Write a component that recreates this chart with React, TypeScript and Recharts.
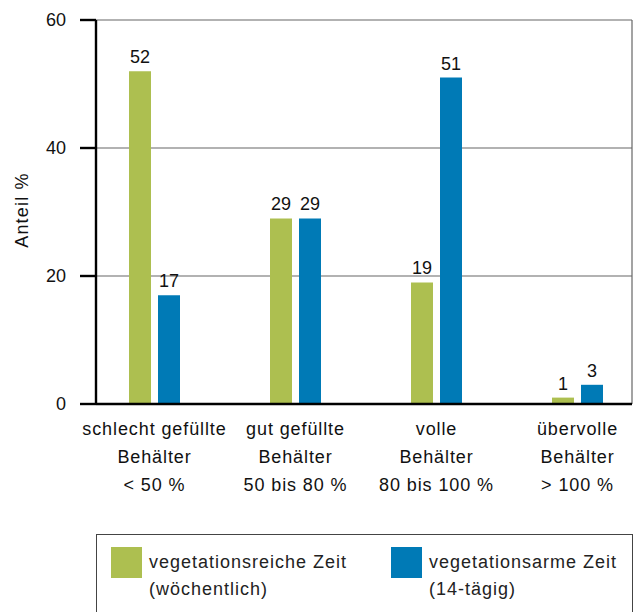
import React from 'react';
import { BarChart, Bar, XAxis, YAxis, CartesianGrid, LabelList } from 'recharts';

const categories = [
  ['schlecht gefüllte', 'Behälter', '< 50 %'],
  ['gut gefüllte', 'Behälter', '50 bis 80 %'],
  ['volle', 'Behälter', '80 bis 100 %'],
  ['übervolle', 'Behälter', '> 100 %'],
];
const reichValues = [52, 29, 19, 1];
const armValues = [17, 29, 51, 3];
const yTicks = [0, 20, 40, 60];
const seriesNames = [
  ['vegetationsreiche Zeit', '(wöchentlich)'],
  ['vegetationsarme Zeit', '(14-tägig)'],
];
const GREEN = '#adbf50';
const BLUE = '#007ab6';
const FONT = '"Liberation Sans", Arial, sans-serif';

const data = categories.map((c, i) => ({
  key: String(i),
  reich: reichValues[i],
  arm: armValues[i],
}));

const CatTick = (props: any) => {
  const { x, payload } = props;
  const lines = categories[Number(payload.value)];
  return (
    <g>
      {lines.map((l, i) => (
        <text key={i} x={x} y={404 + 31 + i * 28} textAnchor="middle" fontSize={18} fill="#111" fontFamily={FONT} letterSpacing={0.9}>
          {l}
        </text>
      ))}
    </g>
  );
};

const YLabel = () => (
  <text x={28} y={210} transform="rotate(-90 28 210)" textAnchor="middle" fontSize={18} fill="#111" fontFamily={FONT} letterSpacing={1.2}>
    Anteil %
  </text>
);

export default function App() {
  return (
    <div style={{ position: 'absolute', left: 0, top: 0, width: 635, height: 612, overflow: 'hidden', background: '#fff', fontFamily: FONT }}>
      <BarChart
        width={635}
        height={612}
        data={data}
        margin={{ top: 20, right: 3, bottom: 0, left: 0 }}
        barSize={22}
        barGap={7}
      >
        <CartesianGrid stroke="#666" strokeWidth={1.2} vertical={true} verticalPoints={[632]} horizontalPoints={[20, 148, 276]} />
        <XAxis
          dataKey="key"
          padding={{ left: -12, right: -16 }}
          axisLine={{ stroke: '#000', strokeWidth: 2.4 }}
          tickLine={false}
          tickSize={0}
          tickMargin={0}
          tick={<CatTick />}
          interval={0}
          height={208}
        />
        <YAxis
          domain={[0, 60]}
          ticks={yTicks}
          width={96}
          axisLine={{ stroke: '#000', strokeWidth: 2.4 }}
          tickLine={{ stroke: '#000', strokeWidth: 2.4 }}
          tickSize={16}
          tickMargin={14}
          tick={{ fontSize: 18, fill: '#111', fontFamily: FONT }}
          label={<YLabel />}
        />
        <Bar dataKey="reich" fill={GREEN} isAnimationActive={false}>
          <LabelList dataKey="reich" position="top" offset={8} fontSize={18} fill="#111" fontFamily={FONT} />
        </Bar>
        <Bar dataKey="arm" fill={BLUE} isAnimationActive={false}>
          <LabelList dataKey="arm" position="top" offset={8} fontSize={18} fill="#111" fontFamily={FONT} />
        </Bar>
      </BarChart>
      <div
        style={{
          position: 'absolute',
          left: 96,
          top: 534,
          width: 537,
          height: 120,
          border: '1px solid #444',
          boxSizing: 'border-box',
        }}
      >
        {seriesNames.map((n, i) => (
          <div key={i} style={{ position: 'absolute', left: i === 0 ? 14 : 294, top: 12, display: 'flex' }}>
            <div style={{ width: 31, height: 31, background: i === 0 ? GREEN : BLUE, flex: 'none' }} />
            <div style={{ marginLeft: 7, fontSize: 18, lineHeight: '27px', color: '#222', marginTop: 2, letterSpacing: 1.0, whiteSpace: 'nowrap' }}>
              <div>{n[0]}</div>
              <div>{n[1]}</div>
            </div>
          </div>
        ))}
      </div>
    </div>
  );
}
